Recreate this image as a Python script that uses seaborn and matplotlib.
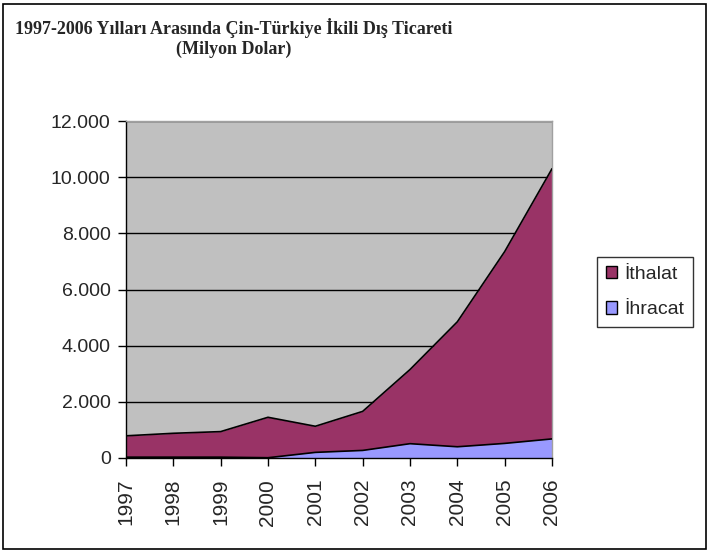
import matplotlib
matplotlib.use("Agg")
import matplotlib.pyplot as plt
from matplotlib.patches import Patch, Rectangle
from matplotlib.ticker import FuncFormatter
import seaborn as sns
import pandas as pd

# values (million USD)
years = [1997, 1998, 1999, 2000, 2001, 2002, 2003, 2004, 2005, 2006]
ihracat = [30, 30, 30, 10, 200, 270, 510, 400, 520, 680]
ithalat = [760, 850, 910, 1440, 930, 1390, 2640, 4450, 6830, 9620]

title = "1997-2006 Yılları Arasında Çin-Türkiye İkili Dış Ticareti\n(Milyon Dolar)"

sns.set_style("white")
plt.rcParams['font.family'] = ['Liberation Sans', 'DejaVu Sans']

df = pd.DataFrame({"Yil": years, "İhracat": ihracat, "İthalat": ithalat})
df["Toplam"] = df["İhracat"] + df["İthalat"]

fig = plt.figure(figsize=(7.09, 5.52), dpi=100)
ax = fig.add_axes([126/709, (552-458)/552, (552-126)/709, (458-121)/552])
ax.set_facecolor("#C0C0C0")

# stacked areas
ax.fill_between(df["Yil"], df["İhracat"], df["Toplam"], color="#993366", lw=0, zorder=2)
ax.fill_between(df["Yil"], 0, df["İhracat"], color="#9999FF", lw=0, zorder=2)
sns.lineplot(data=df, x="Yil", y="Toplam", color="black", lw=1.2, ax=ax, zorder=3)
sns.lineplot(data=df, x="Yil", y="İhracat", color="black", lw=1.2, ax=ax, zorder=3)

ax.set_xlim(1997, 2006)
ax.set_ylim(0, 12000)
ax.set_yticks(range(0, 12001, 2000))
ax.yaxis.set_major_formatter(FuncFormatter(lambda v, p: f"{v:,.0f}".replace(",", ".")))
ax.set_xticks(years)
ax.set_xticklabels([str(y) for y in years], rotation=90)
ax.tick_params(axis="y", labelsize=14, length=6, width=1, color="black",
               direction="out", left=True, pad=5)
ax.tick_params(axis="x", labelsize=15, length=6, width=1, color="black",
               direction="out", bottom=True, pad=9)
ax.grid(axis="y", color="black", lw=1, zorder=1)
ax.set_axisbelow(True)
ax.set_xlabel("")
ax.set_ylabel("")

for side in ["left", "bottom"]:
    ax.spines[side].set_color("black")
    ax.spines[side].set_linewidth(1)
for side in ["top", "right"]:
    ax.spines[side].set_color("#A0A0A0")
    ax.spines[side].set_linewidth(1)
    ax.spines[side].set_visible(True)

fig.text(234/709, 1 - 38/552, title, ha="center", va="center", fontsize=13,
         family="Liberation Serif", weight="bold", linespacing=1.2)

handles = [Patch(facecolor="#993366", edgecolor="black", label="İthalat"),
           Patch(facecolor="#9999FF", edgecolor="black", label="İhracat")]
leg = fig.legend(handles=handles, loc="lower left", bbox_to_anchor=(597/709, 1 - 327/552),
                 fontsize=14, frameon=True, fancybox=False, edgecolor="black",
                 handlelength=0.6, handleheight=0.6, handletextpad=0.35,
                 borderpad=0.45, labelspacing=0.95, borderaxespad=0)
leg.get_frame().set_linewidth(1)

fig.patches.append(Rectangle((3/709, 3/552), 703/709, 545/552, transform=fig.transFigure,
                             fill=False, edgecolor="black", lw=1.2))

fig.savefig("out.png", dpi=100)
